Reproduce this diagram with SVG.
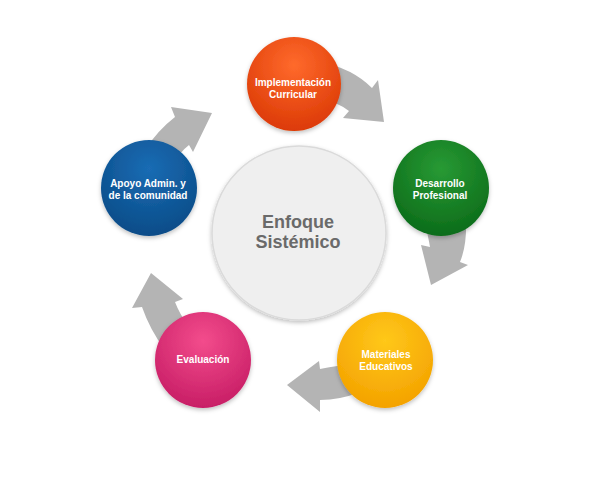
<svg xmlns="http://www.w3.org/2000/svg" width="609" height="480" viewBox="0 0 609 480">
<defs>
<style>
.arrow{fill:#b4b4b4}
.lbl{font-family:"Liberation Sans",Arial,sans-serif;font-weight:bold;font-size:10px;fill:#ffffff;text-anchor:middle}
.ctr{font-family:"Liberation Sans",Arial,sans-serif;font-weight:bold;font-size:18px;fill:#6a6a6a;text-anchor:middle}
</style>
<filter id="sh" x="-20%" y="-20%" width="140%" height="150%">
<feDropShadow dx="0" dy="2" stdDeviation="2" flood-color="#000" flood-opacity="0.25"/>
</filter>
<radialGradient id="gO" cx="50%" cy="30%" r="70%"><stop offset="0" stop-color="#ff6a2c"/><stop offset="1" stop-color="#dc3a06"/></radialGradient>
<radialGradient id="gG" cx="50%" cy="30%" r="70%"><stop offset="0" stop-color="#289a34"/><stop offset="1" stop-color="#0c6c1a"/></radialGradient>
<radialGradient id="gY" cx="50%" cy="30%" r="70%"><stop offset="0" stop-color="#ffc81a"/><stop offset="1" stop-color="#f4a200"/></radialGradient>
<radialGradient id="gP" cx="50%" cy="30%" r="70%"><stop offset="0" stop-color="#f34c8c"/><stop offset="1" stop-color="#c81e66"/></radialGradient>
<radialGradient id="gB" cx="50%" cy="30%" r="70%"><stop offset="0" stop-color="#1a6cb4"/><stop offset="1" stop-color="#0a4c88"/></radialGradient>
</defs>
<rect width="609" height="480" fill="#ffffff"/>
<g id="connectors">
<path class="arrow" d="M 320 62 Q 352 68 372 88 L 378 80 L 384 122 L 343 118 L 349 111 Q 338 102 320 100 Z"/>
<path class="arrow" d="M 424 220 L 466 220 Q 467 245 460 262 L 468 265 L 431 285 L 421 245 L 430 247 Q 428 235 424 220 Z"/>
<path class="arrow" d="M 360 364 Q 338 365 320 369 L 319 361 L 287 385 L 320 412 L 320 400 Q 340 400 360 392 Z"/>
<path class="arrow" d="M 165 350 Q 150 330 142 307 L 132 308 L 151 273 L 183 299 L 175 302 Q 180 315 188 325 Z"/>
<path class="arrow" d="M 145 150 Q 158 130 175 117 L 171 107 L 212 113 L 193 152 L 189 145 Q 180 152 175 162 Z"/>
</g>
<g id="center">
<circle cx="299" cy="233" r="87" fill="#efefef" stroke="#dadada" stroke-width="1.5" filter="url(#sh)"/>
<text class="ctr" x="298" y="228">Enfoque</text>
<text class="ctr" x="298" y="248">Sistémico</text>
</g>
<g id="implementacion">
<circle cx="294" cy="84" r="47" fill="url(#gO)" filter="url(#sh)"/>
<text class="lbl" x="293" y="86">Implementación</text>
<text class="lbl" x="293" y="98">Curricular</text>
</g>
<g id="desarrollo">
<circle cx="441" cy="188" r="48" fill="url(#gG)" filter="url(#sh)"/>
<text class="lbl" x="440" y="187">Desarrollo</text>
<text class="lbl" x="440" y="199">Profesional</text>
</g>
<g id="materiales">
<circle cx="385" cy="360" r="48" fill="url(#gY)" filter="url(#sh)"/>
<text class="lbl" x="386" y="358">Materiales</text>
<text class="lbl" x="386" y="370">Educativos</text>
</g>
<g id="evaluacion">
<circle cx="203" cy="360" r="48" fill="url(#gP)" filter="url(#sh)"/>
<text class="lbl" x="203" y="363">Evaluación</text>
</g>
<g id="apoyo">
<circle cx="149" cy="188" r="48" fill="url(#gB)" filter="url(#sh)"/>
<text class="lbl" x="148" y="187">Apoyo Admin. y</text>
<text class="lbl" x="148" y="199">de la comunidad</text>
</g>
</svg>
